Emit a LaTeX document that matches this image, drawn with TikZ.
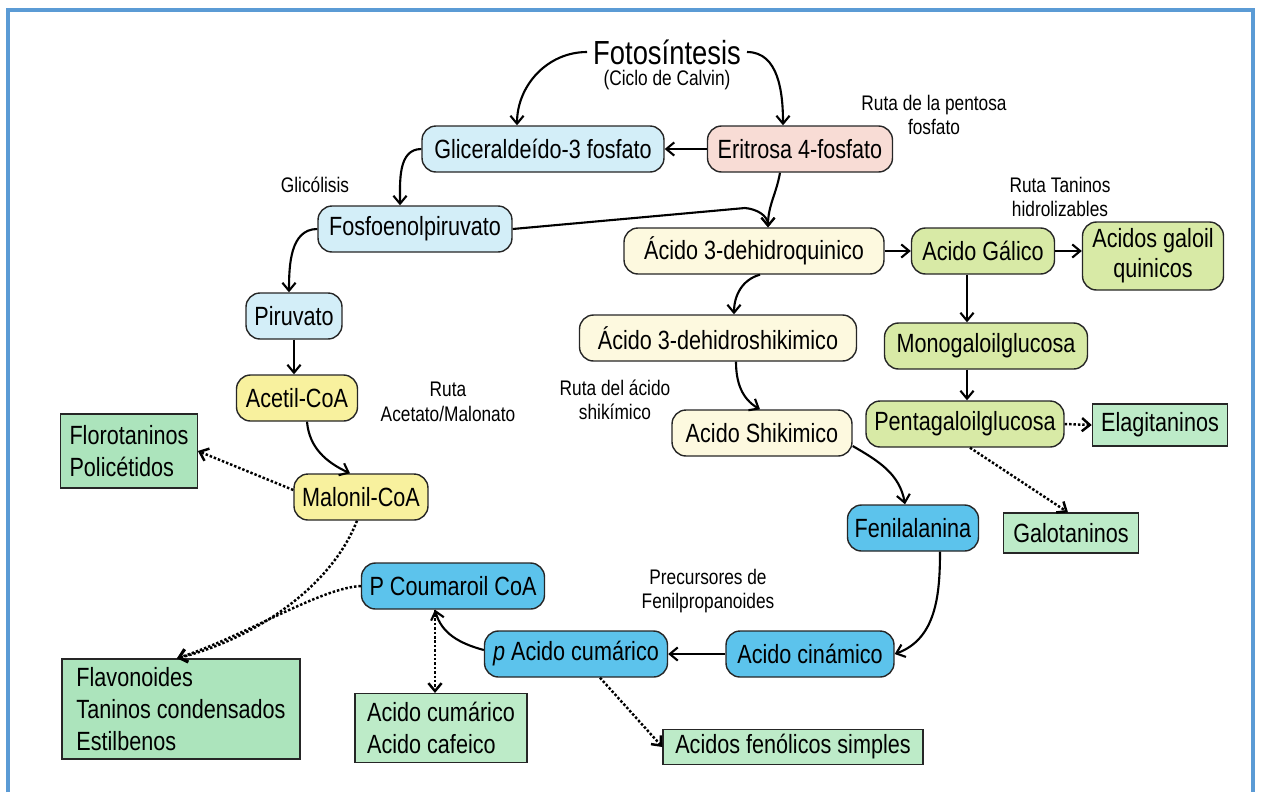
\documentclass[tikz,border=0pt]{standalone}
\usepackage{fontspec}
\setmainfont[FakeStretch=0.82]{Liberation Sans}
\usetikzlibrary{arrows.meta}
\definecolor{frameblue}{HTML}{5B9BD5}
\definecolor{lblue}{HTML}{D3EEF8}
\definecolor{pink}{HTML}{F8DCD5}
\definecolor{lyellow}{HTML}{FDF9DF}
\definecolor{yellow}{HTML}{F8F19E}
\definecolor{lgreen}{HTML}{D8EAA6}
\definecolor{blue}{HTML}{5CC3EC}
\definecolor{mint}{HTML}{BDEBC8}
\definecolor{mintdark}{HTML}{ACE4BC}

\begin{document}
\begin{tikzpicture}[x=0.02cm,y=-0.02cm,
  >={Straight Barb[length=4.5pt,width=7.5pt]},
  box/.style={draw=black!85,rounded corners=0.28cm,line width=0.8pt,minimum height=0.92cm,inner sep=1pt,font=\fontsize{15}{17}\selectfont},
  prod/.style={draw=black!85,line width=0.7pt,inner sep=5pt,font=\fontsize{15}{18}\selectfont},
  lbl/.style={font=\fontsize{12}{14}\selectfont,align=center},
  flow/.style={->,line width=1.2pt},
  side/.style={->,line width=1.4pt,dash pattern=on 1.4pt off 1.1pt}]
\useasboundingbox (0,0) rectangle (1263,792);
\draw[frameblue,line width=0.08cm] (8,792) -- (8,10) -- (1253,10) -- (1253,792);

\node [font=\fontsize{19}{21}\selectfont] (foto) at (667,52) {Fotosíntesis};
\node [lbl] (calvin) at (667,80) {(Ciclo de Calvin)};
\node [box,fill=lblue,minimum width=4.84cm] (gli) at (543,149) {Gliceraldeído-3 fosfato};
\node [box,fill=pink,minimum width=3.7cm] (eri) at (800,149) {Eritrosa 4-fosfato};
\node [lbl] (pentosa) at (934,115) {Ruta de la pentosa\\fosfato};
\node [lbl] (gluc) at (315,185) {Glicólisis};
\node [box,fill=lblue,minimum width=3.88cm] (fpe) at (415,229) {Fosfoenolpiruvato};
\node [box,fill=lyellow,minimum width=5.2cm] (dhq) at (754,251) {Ácido 3-dehidroquinico};
\node [box,fill=lgreen,minimum width=2.86cm] (gal) at (983,251) {Acido Gálico};
\node [box,fill=lgreen,minimum width=2.82cm,minimum height=1.36cm,align=center] (gq) at (1153,256) {Acidos galoil\\quinicos};
\node [lbl] (taninos) at (1060,197) {Ruta Taninos\\hidrolizables};
\node [box,fill=lblue,minimum width=1.92cm] (pir) at (294,316) {Piruvato};
\node [box,fill=lyellow,minimum width=5.54cm] (dhs) at (718,338) {Ácido 3-dehidroshikimico};
\node [box,fill=lgreen,minimum width=4.06cm] (mono) at (986,346) {Monogaloilglucosa};
\node [box,fill=yellow,minimum width=2.42cm] (ace) at (297,398) {Acetil-CoA};
\node [lbl] (acemal) at (448,402) {Ruta\\Acetato/Malonato};
\node [lbl] (shikruta) at (615,400) {Ruta del ácido\\shikímico};
\node [box,fill=lyellow,minimum width=3.6cm] (shi) at (762,433) {Acido Shikimico};
\node [box,fill=lgreen,minimum width=3.96cm] (pen) at (965,424) {Pentagaloilglucosa};
\node [prod,fill=mint,minimum width=2.64cm,minimum height=0.8cm] (ela) at (1160,425) {Elagitaninos};
\node [prod,fill=mintdark,minimum width=2.68cm,minimum height=1.48cm,align=left] (flo) at (129,451) {Florotaninos\\Policétidos};
\node [box,fill=yellow,minimum width=2.68cm] (mal) at (361,497) {Malonil-CoA};
\node [box,fill=blue,minimum width=2.62cm] (fen) at (913,528) {Fenilalanina};
\node [prod,fill=mint,minimum width=2.7cm,minimum height=0.8cm] (galo) at (1071,533) {Galotaninos};
\node [box,fill=blue,minimum width=3.66cm] (cou) at (453,586) {P Coumaroil CoA};
\node [lbl] (precursores) at (708,591) {Precursores de\\Fenilpropanoides};
\node [box,fill=blue,minimum width=3.66cm] (pcu) at (576,654) {\textit{p} Acido cumárico};
\node [box,fill=blue,minimum width=3.36cm] (cin) at (810,654) {Acido cinámico};
\node [prod,fill=mintdark,minimum width=4.76cm,minimum height=1.88cm,align=left] (flv) at (181,709) {Flavonoides\\Taninos condensados\\Estilbenos};
\node [prod,fill=mint,minimum width=3.44cm,minimum height=1.34cm,align=left] (cum) at (441,728) {Acido cumárico\\Acido cafeico};
\node [prod,fill=mint,minimum width=5.2cm,minimum height=0.7cm,inner sep=2pt] (afs) at (793,747) {Acidos fenólicos simples};

\coordinate (m1) at ([xshift=0.28cm]dhq.north);
\coordinate (j1) at (745,208);
\coordinate (c1) at ([xshift=-0.36cm]cou.south);
\coordinate (f1) at ([xshift=-0.08cm]flv.north);

\draw[flow] (foto.west) to[out=180,in=90] ([xshift=-0.52cm]gli.north);
\draw[flow] (foto.east) to[out=0,in=90] ([xshift=-0.34cm]eri.north);
\draw[flow] (eri.west) -- (gli.east);
\draw[flow] (gli.west) to[out=180,in=90] ([xshift=-0.3cm]fpe.north);
\draw[flow] ([xshift=-0.4cm]eri.south) to[out=-100,in=90] (m1);
\draw[flow] (fpe.east) -- (j1) to[out=-5,in=90] (m1);
\draw[flow] (fpe.west) to[out=180,in=90] ([xshift=-0.1cm]pir.north);
\draw[flow] (pir.south) -- (pir.south |- ace.north);
\draw[flow] ([xshift=0.2cm]ace.south) to[out=-85,in=155] ([xshift=-0.22cm]mal.north);
\draw[side] ([yshift=0.14cm]mal.west) -- (flo.east);
\draw[side] ([xshift=-0.08cm]mal.south) .. controls (330,590) and (250,640) .. (f1);
\draw[side] (cou.west) .. controls (320,588) and (245,636) .. (f1);
\draw[flow] (dhq.east) -- (gal.west);
\draw[flow] (gal.east) -- (gal.east -| gq.west);
\draw[flow] ([xshift=-0.32cm]gal.south) -- ([xshift=-0.32cm]gal.south |- mono.north);
\draw[flow] ([xshift=-0.38cm]mono.south) -- ([xshift=-0.38cm]mono.south |- pen.north);
\draw[side] (pen.east) -- (ela.west);
\draw[side] ([xshift=0.1cm]pen.south) -- ([xshift=-0.06cm]galo.north);
\draw[flow] ([xshift=0.12cm]dhq.south) to[out=-165,in=90] ([xshift=0.32cm]dhs.north);
\draw[flow] ([xshift=0.36cm]dhs.south) to[out=-90,in=150] ([xshift=-0.04cm]shi.north);
\draw[flow] ([yshift=-0.26cm]shi.east) to[out=-30,in=100] ([xshift=-0.16cm]fen.north);
\draw[flow] ([xshift=0.54cm]fen.south) to[out=-90,in=20] (cin.east);
\draw[flow] (cin.west) -- (pcu.east);
\draw[flow] ([yshift=0.08cm]pcu.west) to[out=165,in=-75] (c1);
\draw[side] (c1) -- (c1 |- cum.north);
\draw[side] ([xshift=0.48cm]pcu.south) -- (afs.west);
\end{tikzpicture}
\end{document}
